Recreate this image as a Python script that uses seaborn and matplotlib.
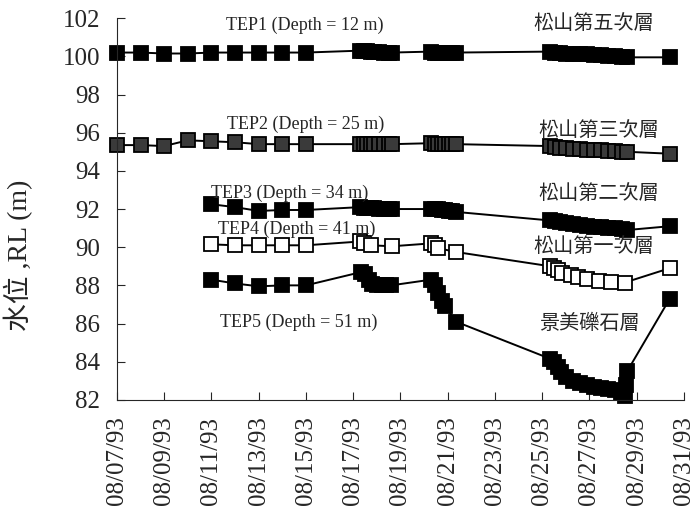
import pandas as pd
import numpy as np
import seaborn as sns
import matplotlib.pyplot as plt

# --- data (day of August 1993, water level RL in m) ---
tick_days = [7, 9, 11, 13, 15, 17, 19, 21, 23, 25, 27, 29, 31]
tick_labels = ['08/07/93', '08/09/93', '08/11/93', '08/13/93', '08/15/93', '08/17/93', '08/19/93',
               '08/21/93', '08/23/93', '08/25/93', '08/27/93', '08/29/93', '08/31/93']

tep1_day = [7, 8, 9, 10, 11, 12, 13, 14, 15,
            17.3, 17.45, 17.6, 17.75, 17.9, 18.1, 18.3, 18.5, 18.65,
            20.3, 20.45, 20.6, 20.75, 20.9, 21.05, 21.2, 21.35,
            25.35, 25.55, 25.75, 26.0, 26.3, 26.6, 26.9, 27.2, 27.5, 27.8, 28.1, 28.4, 28.6,
            30.4]
tep1_level = [100.2, 100.2, 100.15, 100.15, 100.2, 100.2, 100.2, 100.2, 100.2,
              100.3, 100.3, 100.3, 100.25, 100.25, 100.25, 100.2, 100.2, 100.2,
              100.25, 100.2, 100.2, 100.2, 100.2, 100.2, 100.2, 100.2,
              100.25, 100.2, 100.2, 100.15, 100.15, 100.1, 100.1, 100.05, 100.05, 100.0, 100.0, 99.95, 99.95,
              99.95]

tep2_day = [7, 8, 9, 10, 11, 12, 13, 14, 15,
            17.3, 17.45, 17.6, 17.75, 17.9, 18.1, 18.3, 18.5, 18.65,
            20.3, 20.45, 20.6, 20.75, 20.9, 21.05, 21.2, 21.35,
            25.35, 25.55, 25.75, 26.0, 26.3, 26.6, 26.9, 27.2, 27.5, 27.8, 28.1, 28.4, 28.6,
            30.4]
tep2_level = [95.35, 95.35, 95.3, 95.6, 95.55, 95.5, 95.4, 95.4, 95.4,
              95.4, 95.4, 95.4, 95.4, 95.4, 95.4, 95.4, 95.4, 95.4,
              95.45, 95.4, 95.4, 95.4, 95.4, 95.4, 95.4, 95.4,
              95.3, 95.25, 95.2, 95.2, 95.15, 95.15, 95.1, 95.1, 95.1, 95.05, 95.05, 95.0, 95.0,
              94.9]

tep3_day = [11, 12, 13, 14, 15,
            17.3, 17.45, 17.6, 17.75, 17.9, 18.1, 18.3, 18.5, 18.65,
            20.3, 20.45, 20.6, 20.75, 20.9, 21.05, 21.2, 21.35,
            25.35, 25.55, 25.75, 26.0, 26.3, 26.6, 26.9, 27.2, 27.5, 27.8, 28.1, 28.4, 28.6,
            30.4]
tep3_level = [92.25, 92.1, 91.9, 91.95, 91.95,
              92.1, 92.05, 92.05, 92.05, 92.05, 92.0, 92.0, 92.0, 92.0,
              92.0, 92.0, 92.0, 91.95, 91.95, 91.9, 91.9, 91.85,
              91.4, 91.35, 91.3, 91.25, 91.2, 91.15, 91.1, 91.05, 91.05, 91.0, 91.0, 90.95, 90.9,
              91.1]

tep4_day = [11, 12, 13, 14, 15,
            17.3, 17.45, 17.75, 18.65,
            20.3, 20.45, 20.6, 21.35,
            25.35, 25.5, 25.65, 25.85, 26.2, 26.5, 26.9, 27.4, 27.9, 28.5,
            30.4]
tep4_level = [90.15, 90.1, 90.1, 90.1, 90.1,
              90.3, 90.2, 90.1, 90.05,
              90.2, 90.1, 89.95, 89.75,
              89.0, 88.9, 88.8, 88.65, 88.55, 88.45, 88.35, 88.25, 88.2, 88.15,
              88.9]

tep5_day = [11, 12, 13, 14, 15,
            17.35, 17.5, 17.65, 17.8, 18.0, 18.2, 18.4, 18.6,
            20.3, 20.45, 20.6, 20.75, 20.9, 21.35,
            25.35, 25.5, 25.65, 25.8, 26.0, 26.3, 26.6, 26.9, 27.2, 27.5, 27.8, 28.1, 28.35, 28.5, 28.55, 28.6,
            30.4]
tep5_level = [88.3, 88.1, 87.95, 88.0, 88.0,
              88.7, 88.6, 88.3, 88.05, 88.0, 88.0, 88.0, 88.0,
              88.3, 88.0, 87.6, 87.2, 86.9, 86.1,
              84.15, 84.0, 83.7, 83.45, 83.2, 83.0, 82.9, 82.8, 82.7, 82.6, 82.55, 82.5, 82.35, 82.2, 82.8, 83.5,
              87.3]

wells = ['TEP1', 'TEP2', 'TEP3', 'TEP4', 'TEP5']
well_labels = ['TEP1 (Depth = 12 m)', 'TEP2 (Depth = 25 m)', 'TEP3 (Depth = 34 m)',
               'TEP4 (Depth = 41 m)', 'TEP5 (Depth = 51 m)']
layer_labels = ['松山第五次層', '松山第三次層', '松山第二次層', '松山第一次層', '景美礫石層']
marker_faces = ['black', '#3a3a3a', 'black', 'white', 'black']

frames = []
for name, d, v in zip(wells, [tep1_day, tep2_day, tep3_day, tep4_day, tep5_day],
                      [tep1_level, tep2_level, tep3_level, tep4_level, tep5_level]):
    frames.append(pd.DataFrame({'well': name, 'day': d, 'level': v}))
df = pd.concat(frames, ignore_index=True)

sns.set_style('ticks')
plt.rcParams['font.family'] = ['Liberation Serif', 'Noto Sans CJK TC']

fig = plt.figure(figsize=(7, 5.2), dpi=100)
ax = fig.add_axes([0.167, 0.231, 0.81, 0.734])

for name, face in zip(wells, marker_faces):
    sns.lineplot(data=df[df['well'] == name], x='day', y='level', ax=ax,
                 estimator=None, sort=False, color='black', linewidth=1.4,
                 marker='s', markersize=9.5, markerfacecolor=face,
                 markeredgecolor='black', markeredgewidth=1.3, clip_on=False)

# annotation positions (day, level)
well_label_x = [14.97, 14.97, 14.3, 14.6, 14.7]
well_label_y = [101.65, 96.45, 92.8, 90.95, 86.05]
layer_label_x = [27.2, 27.4, 27.4, 27.2, 27.0]
layer_label_y = [101.7, 96.1, 92.8, 90.05, 86.0]
for i in range(5):
    ax.text(well_label_x[i], well_label_y[i], well_labels[i], ha='center', va='center',
            fontsize=13, family=['Liberation Serif', 'Noto Sans CJK TC'])
    ax.text(layer_label_x[i], layer_label_y[i], layer_labels[i], ha='center', va='center',
            fontsize=14.5, family=['Noto Sans CJK TC', 'Liberation Serif'])

ax.set_xlim(7, 31)
ax.set_ylim(82, 102)
ax.set_xticks(tick_days)
ax.set_xticklabels(tick_labels, rotation=90)
ax.set_yticks(np.arange(82, 103, 2))
ax.tick_params(axis='both', direction='in', labelsize=18, length=6, width=0.8)
ax.tick_params(axis='x', pad=12)
ax.tick_params(axis='y', pad=12)
ax.set_xlabel('')
ax.set_ylabel('水位 ,RL (m)', fontsize=20)
ax.yaxis.set_label_coords(-0.148, 0.38)
sns.despine(ax=ax)

plt.savefig('out.png', dpi=100)
